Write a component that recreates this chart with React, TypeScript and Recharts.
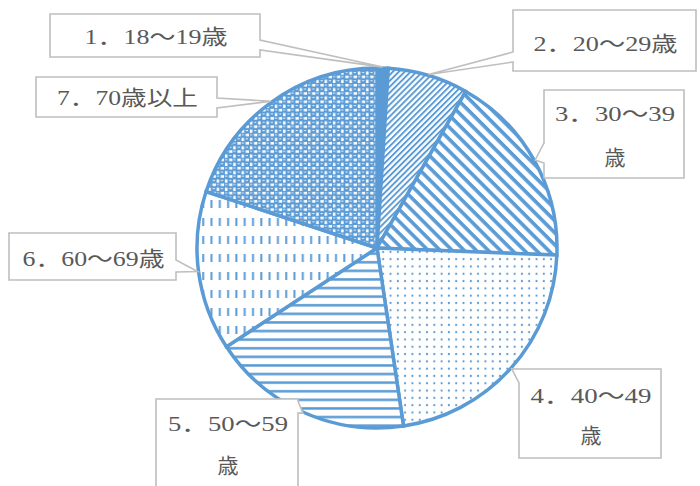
import React from 'react';
import { PieChart, Pie, Cell } from 'recharts';

// ---- data ----
const categories = ['1．18～19歳', '2．20～29歳', '3．30～39歳', '4．40～49歳', '5．50～59歳', '6．60～69歳', '7．70歳以上'];
const shares = [1.0, 7.2, 17.4, 22.0, 18.1, 14.3, 19.9];
const labelLines = [
  ['1．18～19歳'],
  ['2．20～29歳'],
  ['3．30～39', '歳'],
  ['4．40～49', '歳'],
  ['5．50～59', '歳'],
  ['6．60～69歳'],
  ['7．70歳以上'],
];

const data = categories.map((name, i) => ({ name, value: shares[i] }));

// ---- styles / layout ----
const BLUE = '#5B9BD5';
const GRAY = '#BFBFBF';
const TEXT = '#595959';
const FONT = "'Liberation Serif', 'Noto Sans CJK JP', serif";
const fills = ['url(#pt1)', 'url(#pt2)', 'url(#pt3)', 'url(#pt4)', 'url(#pt5)', 'url(#pt6)', 'url(#pt7)'];

type Callout = {
  x: number; y: number; w: number; h: number;
  side: 'left' | 'right'; a: number; b: number;
  ys: number[]; tl: (number | null)[];
};
const callouts: Callout[] = [
  { x: 50, y: 14, w: 210, h: 43, side: 'right', a: 40, b: 50, ys: [36], tl: [143] },
  { x: 513, y: 10, w: 183, h: 61, side: 'left', a: 52, b: 62, ys: [43], tl: [144] },
  { x: 544, y: 90, w: 140, h: 88, side: 'left', a: 143, b: 163, ys: [113, 157], tl: [120, null] },
  { x: 519, y: 369, w: 142, h: 89, side: 'left', a: 369, b: 383, ys: [395, 435], tl: [121, null] },
  { x: 156, y: 399, w: 142, h: 100, side: 'right', a: 401, b: 413, ys: [423, 465], tl: [120, null] },
  { x: 9, y: 233, w: 167, h: 47, side: 'right', a: 260, b: 272, ys: [258], tl: [142] },
  { x: 36, y: 77, w: 181, h: 40, side: 'right', a: 98, b: 108, ys: [97], tl: [141] },
];

const RADIAN = Math.PI / 180;

const renderLabel = (props: any) => {
  const { cx, cy, midAngle, outerRadius, index } = props;
  const c = callouts[index];
  if (!c) return null;
  const tx = cx + (outerRadius + 1) * Math.cos(-midAngle * RADIAN);
  const ty = cy + (outerRadius + 1) * Math.sin(-midAngle * RADIAN);
  const { x, y, w, h, side, a, b } = c;
  let d = `M${x},${y} L${x + w},${y} `;
  if (side === 'right') d += `L${x + w},${a} L${tx},${ty} L${x + w},${b} L${x + w},${y + h} `;
  else d += `L${x + w},${y + h} `;
  d += `L${x},${y + h} `;
  if (side === 'left') d += `L${x},${b} L${tx},${ty} L${x},${a} L${x},${y} `;
  else d += `L${x},${y} `;
  d += 'Z';
  const mx = x + w / 2 + 1;
  return (
    <g key={`co-${index}`}>
      <path d={d} fill="#ffffff" stroke={GRAY} strokeWidth={1.6} strokeLinejoin="miter" />
      {labelLines[index].map((line, li) => {
        const tl = c.tl[li];
        const extra: any = tl ? { textLength: tl, lengthAdjust: 'spacingAndGlyphs' } : {};
        return (
          <text
            key={li}
            x={mx}
            y={c.ys[li] + 7.5}
            textAnchor="middle"
            fontFamily={FONT}
            fontSize={21}
            fill={TEXT}
            {...extra}
          >
            {line}
          </text>
        );
      })}
    </g>
  );
};

const Patterns = () => (
  <svg width={0} height={0} style={{ position: 'absolute' }}>
    <defs>
      <pattern id="pt1" patternUnits="userSpaceOnUse" width={4} height={4}>
        <rect x={0} y={0} width={4} height={4} fill={BLUE} />
      </pattern>
      <pattern id="pt2" patternUnits="userSpaceOnUse" width={10} height={4.2} patternTransform="rotate(-45)">
        <rect x={0} y={0} width={10} height={4.2} fill="#fff" />
        <rect x={0} y={0} width={10} height={1.9} fill={BLUE} />
      </pattern>
      <pattern id="pt3" patternUnits="userSpaceOnUse" width={10} height={8.5} patternTransform="rotate(45)">
        <rect x={0} y={0} width={10} height={8.5} fill="#fff" />
        <rect x={0} y={0} width={10} height={3.6} fill={BLUE} />
      </pattern>
      <pattern id="pt4" patternUnits="userSpaceOnUse" width={7.3} height={7.3}>
        <rect x={0} y={0} width={7.3} height={7.3} fill="#fff" />
        <circle cx={3.6} cy={3.6} r={1.1} fill={BLUE} />
      </pattern>
      <pattern id="pt5" patternUnits="userSpaceOnUse" width={10} height={8.6}>
        <rect x={0} y={0} width={10} height={8.6} fill="#fff" />
        <rect x={0} y={3} width={10} height={2.5} fill={BLUE} />
      </pattern>
      <pattern id="pt6" patternUnits="userSpaceOnUse" width={8.3} height={18}>
        <rect x={0} y={0} width={8.3} height={18} fill="#fff" />
        <rect x={3} y={2} width={2} height={8} fill={BLUE} />
      </pattern>
      <pattern id="pt7" patternUnits="userSpaceOnUse" width={8.3} height={8.3}>
        <rect x={0} y={0} width={8.3} height={8.3} fill="#fff" />
        <rect x={-0.8} y={-0.8} width={5.8} height={5.8} rx={1.5} fill={BLUE} />
        <rect x={3.35} y={3.35} width={5.8} height={5.8} rx={1.5} fill={BLUE} />
        <rect x={-4.95} y={3.35} width={5.8} height={5.8} rx={1.5} fill={BLUE} />
        <rect x={3.35} y={-4.95} width={5.8} height={5.8} rx={1.5} fill={BLUE} />
        <rect x={1} y={1.5} width={2.2} height={0.9} fill="#fff" />
        <rect x={5.15} y={5.65} width={2.2} height={0.9} fill="#fff" />
      </pattern>
    </defs>
  </svg>
);

export default function App() {
  return (
    <div style={{ position: 'absolute', left: 0, top: 0, width: 700, height: 486, background: '#fff', overflow: 'hidden' }}>
      <Patterns />
      <PieChart width={700} height={486} margin={{ top: 0, right: 0, bottom: 0, left: 0 }}>
        <Pie
          data={data}
          dataKey="value"
          nameKey="name"
          cx={377}
          cy={248}
          outerRadius={180}
          startAngle={90}
          endAngle={-270}
          stroke={BLUE}
          strokeWidth={3.5}
          label={renderLabel}
          labelLine={false}
          isAnimationActive={false}
        >
          {data.map((d, i) => (
            <Cell key={d.name} fill={fills[i]} stroke={BLUE} strokeWidth={3.5} />
          ))}
        </Pie>
      </PieChart>
    </div>
  );
}
